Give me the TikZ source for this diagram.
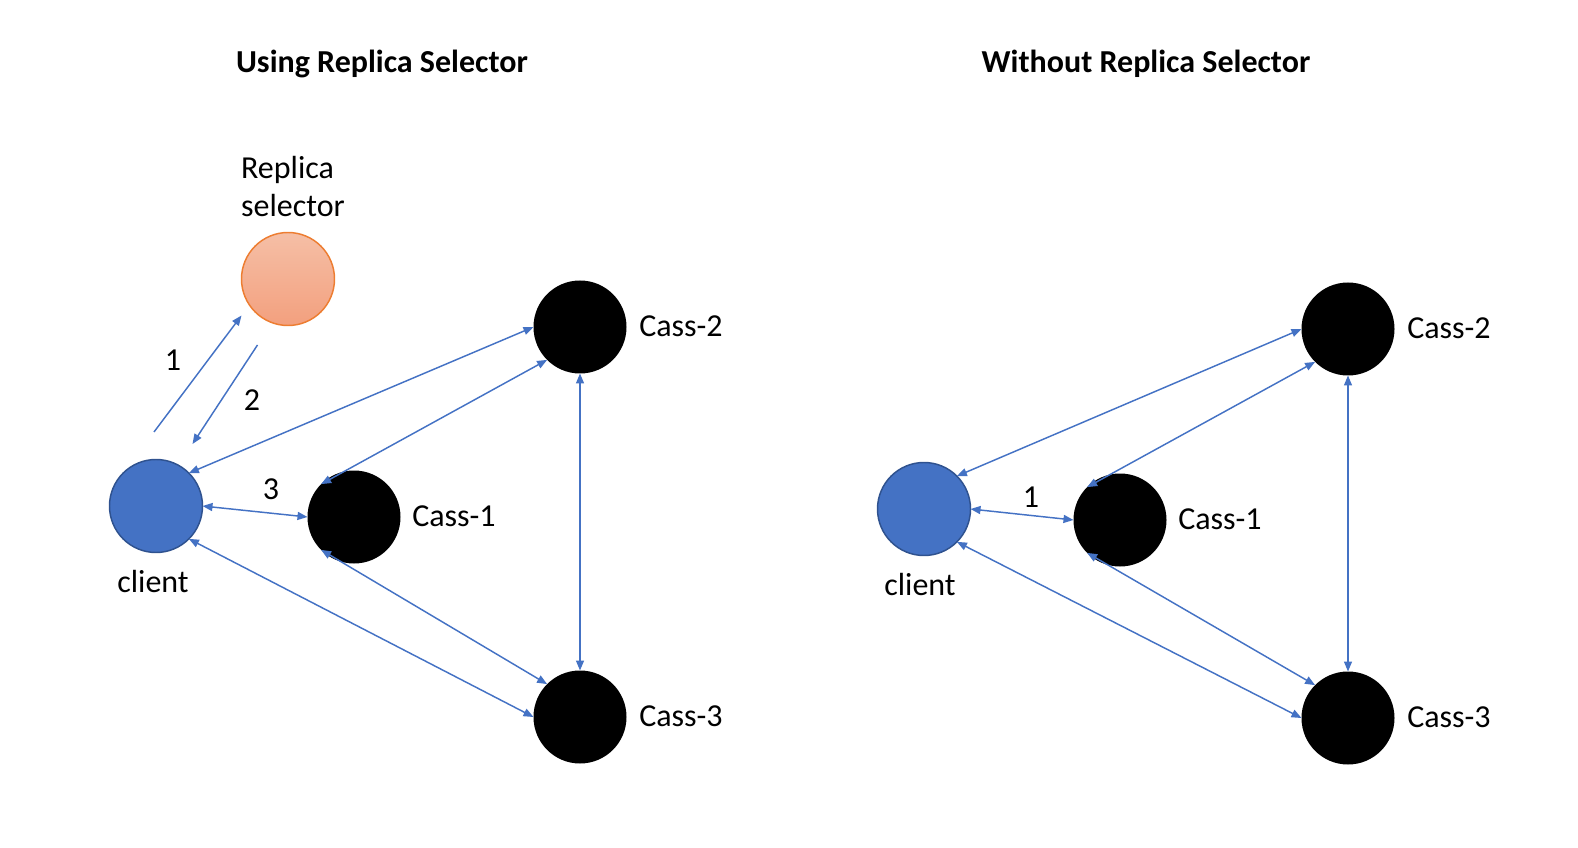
\documentclass[tikz,border=0pt]{standalone}
\usepackage{fontspec}
\setmainfont{Carlito}
\usetikzlibrary{arrows.meta}
\definecolor{linkblue}{HTML}{4472C4}
\definecolor{clientfill}{HTML}{4472C4}
\definecolor{clientedge}{HTML}{2F528F}
\definecolor{seledge}{HTML}{ED7D31}
\definecolor{seltop}{HTML}{F5BFA6}
\definecolor{selbot}{HTML}{F3A07E}
\tikzset{
  x=0.75pt, y=-0.75pt,
  every node/.style={font=\fontsize{24}{28.5}\selectfont},
  dot/.style={circle, minimum size=69.75pt, inner sep=0pt, outer sep=0pt},
  cass/.style={dot, fill=black},
  clientnode/.style={dot, fill=clientfill, draw=clientedge, line width=1.1pt},
  selnode/.style={dot, top color=seltop, bottom color=selbot, draw=seledge, line width=1.1pt},
  lbl/.style={anchor=west, inner sep=0pt},
  num/.style={inner sep=0pt},
  link/.style={draw=linkblue, line width=1.1pt, {Triangle[length=7.5pt,width=6pt]}-{Triangle[length=7.5pt,width=6pt]}},
  onelink/.style={draw=linkblue, line width=1.1pt, -{Triangle[length=7.5pt,width=6pt]}},
  titlestyle/.style={font=\fontsize{24}{28.5}\selectfont\bfseries, inner sep=0pt}
}
\begin{document}
\begin{tikzpicture}
\useasboundingbox (0,0) rectangle (1578,848);
% titles
\node[titlestyle] (t1) at (382,64) {Using Replica Selector};
\node[titlestyle] (t2) at (1146,64) {Without Replica Selector};

% ---------- left panel ----------
\node[selnode] (sel) at (288,279) {};
\node[align=left, inner sep=0pt] (sellbl) at (293,187) {Replica\\selector};
\node[clientnode] (c) at (156,506) {};
\node[cass] (a1) at (354,517) {};
\node[cass] (a2) at (580,327) {};
\node[cass] (a3) at (580,717) {};
\node[num] (clbl) at (153,582) {client};
\node[lbl] (l1) at (412,516) {Cass-1};
\node[lbl] (l2) at (639,326) {Cass-2};
\node[lbl] (l3) at (639,716) {Cass-3};
\node[num] (n1) at (173,360) {1};
\node[num] (n2) at (252,400) {2};
\node[num] (n3) at (271,489) {3};
\coordinate (r1s) at (154,432);
\coordinate (r1e) at (241.5,315.5);
\coordinate (r2s) at (257.5,345);
\coordinate (r2e) at (192.5,444);
\draw[onelink] (r1s) -- (r1e);
\draw[onelink] (r2s) -- (r2e);
\draw[link] (c.east) -- (a1.west);
\draw[link] (c.north east) -- (a2.west);
\draw[link] (c.south east) -- (a3.west);
\draw[link] (a1.north west) -- (a2.south west);
\draw[link] (a1.south west) -- (a3.north west);
\draw[link] (a2.south) -- (a3.north);

% ---------- right panel ----------
\node[clientnode] (rc) at (924,509) {};
\node[cass] (b1) at (1120,520) {};
\node[cass] (b2) at (1348,329) {};
\node[cass] (b3) at (1348,718) {};
\node[num] (rclbl) at (920,585) {client};
\node[lbl] (m1) at (1178,519) {Cass-1};
\node[lbl] (m2) at (1407,328) {Cass-2};
\node[lbl] (m3) at (1407,717) {Cass-3};
\node[num] (rn1) at (1031,497) {1};
\draw[link] (rc.east) -- (b1.west);
\draw[link] (rc.north east) -- (b2.west);
\draw[link] (rc.south east) -- (b3.west);
\draw[link] (b1.north west) -- (b2.south west);
\draw[link] (b1.south west) -- (b3.north west);
\draw[link] (b2.south) -- (b3.north);
\end{tikzpicture}
\end{document}
